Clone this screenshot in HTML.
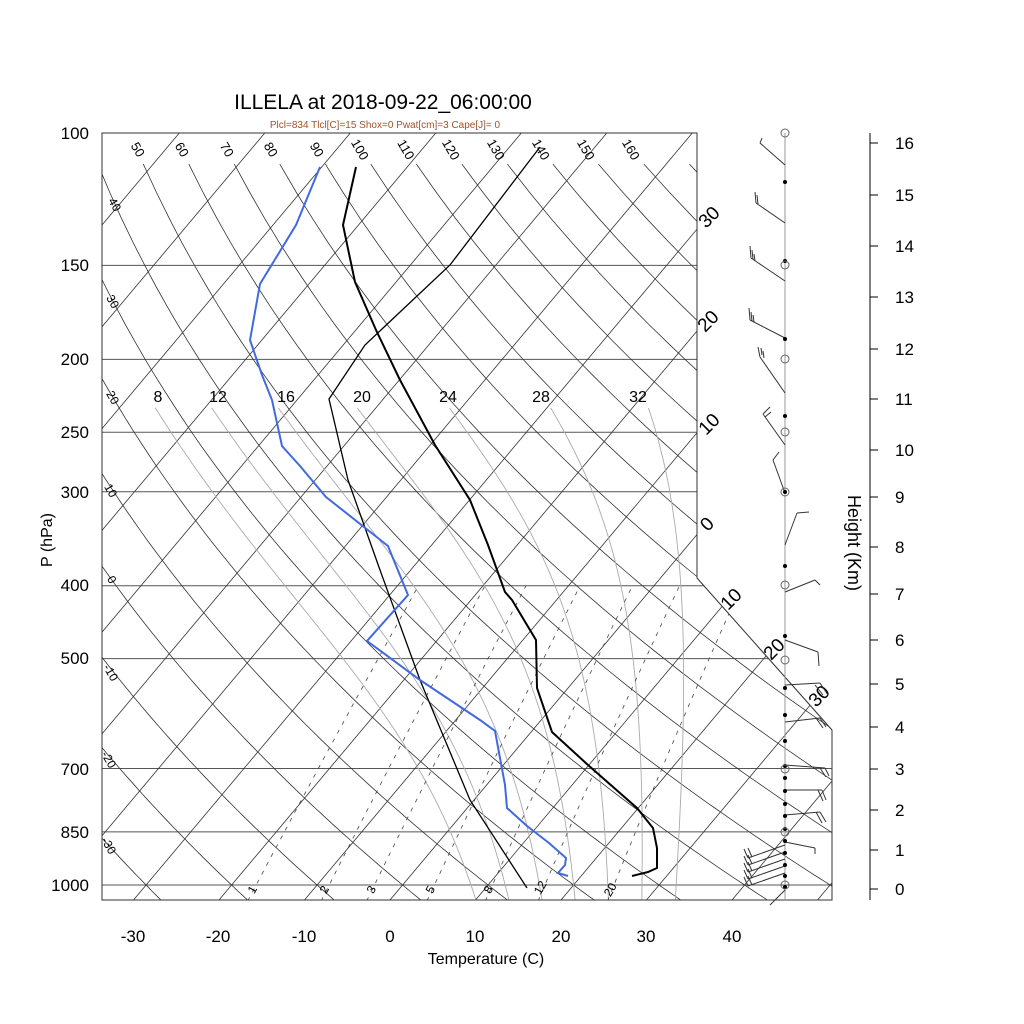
<!DOCTYPE html>
<html><head><meta charset="utf-8"><style>
body{margin:0;background:#fff}
svg{display:block;font-family:"Liberation Sans",sans-serif}
</style></head><body>
<svg id="s" width="1024" height="1024" viewBox="0 0 1024 1024" xmlns="http://www.w3.org/2000/svg">
<defs><clipPath id="c"><polygon points="102,133 697,133 697,578 832,730 832,900 102,900"/></clipPath></defs>
<rect width="1024" height="1024" fill="#fff"/>
<g id="grid" clip-path="url(#c)"></g>
<polygon points="102,133 697,133 697,578 832,730 832,900 102,900" fill="none" stroke="#333" stroke-width="1"/>
<text x="383" y="109" font-size="21" text-anchor="middle">ILLELA at 2018-09-22_06:00:00</text>
<text x="385" y="128" font-size="10" text-anchor="middle" fill="#a0522d">Plcl=834 Tlcl[C]=15 Shox=0 Pwat[cm]=3 Cape[J]= 0</text>
<g font-size="17" text-anchor="end">
<text x="89" y="139">100</text><text x="89" y="271">150</text><text x="89" y="365">200</text><text x="89" y="438">250</text><text x="89" y="498">300</text><text x="89" y="591">400</text><text x="89" y="664">500</text><text x="89" y="775">700</text><text x="89" y="838">850</text><text x="89" y="891">1000</text>
</g>
<text transform="translate(52,540) rotate(-90)" font-size="16" text-anchor="middle">P (hPa)</text>
<g font-size="17" text-anchor="middle">
<text x="133" y="942">-30</text><text x="218" y="942">-20</text><text x="304" y="942">-10</text><text x="390" y="942">0</text><text x="475" y="942">10</text><text x="561" y="942">20</text><text x="646" y="942">30</text><text x="732" y="942">40</text>
</g>
<text x="486" y="964" font-size="16" text-anchor="middle">Temperature (C)</text>
<line x1="870" y1="133" x2="870" y2="900" stroke="#000"/>
<g id="hax" font-size="17"></g>
<text transform="translate(848,543) rotate(90)" font-size="18" text-anchor="middle">Height (Km)</text>
<g id="lab"></g>
<polyline fill="none" stroke="#000" stroke-width="1.3" points="527,888 470,800 420,680 380,570 348,480 329,399 365,345 450,265 540,147"/>
<polyline fill="none" stroke="#000" stroke-width="2" points="356,167 343,225 355,282 376,330 400,380 435,445 470,500 488,545 505,592 512,600 536,640 537,688 552,732 588,765 637,808 653,828 657,848 657,868 648,872 632,876"/>
<polyline fill="none" stroke="#4169e1" stroke-width="2" points="320,167 296,225 260,284 250,340 262,375 272,400 282,446 300,466 326,497 388,546 408,595 367,641 420,680 480,720 495,731 505,785 507,808 527,826 549,843 566,858 565,865 558,873 568,876"/>
<line x1="785" y1="133" x2="785" y2="900" stroke="#999"/>
<g id="wind" stroke="#333" fill="none" stroke-width="1"></g>
<script>
var S=document.getElementById('s'),NS='http://www.w3.org/2000/svg';
function el(par,tag,at,txt){var e=document.createElementNS(NS,tag);for(var k in at)e.setAttribute(k,at[k]);if(txt!==undefined)e.textContent=txt;document.getElementById(par).appendChild(e);return e;}
function Y(p){return 133+326.6*Math.log(p/100);}
function X(T,y){return 390+8.55*T+(900-y)*0.84;}
function line(pts,st,w,da){el('grid','polyline',{points:pts.map(function(a){return a[0].toFixed(1)+','+a[1].toFixed(1)}).join(' '),fill:'none',stroke:st,'stroke-width':w,'stroke-dasharray':da||'none'});}
[100,150,200,250,300,400,500,700,850,1000].forEach(function(p){var y=Y(p);line([[102,y],[840,y]],'#555',1);});
for(var T=-160;T<=60;T+=10){line([[X(T,900),900],[X(T,133),133]],'#333',0.8);}
for(var th=-30;th<=170;th+=10){var pts=[];for(var p=1050;p>=110;p-=10){var t=(th+273.15)*Math.pow(p/1000,0.2857)-273.15;var y=Y(p);pts.push([X(t,y),y]);}line(pts,'#333',0.8);}
function es(t){return 6.112*Math.exp(17.67*t/(t+243.5));}
function dTdp(t,p){var Tk=t+273.15,r=0.622*es(t)/(p-es(t));return (287*Tk+2.5e6*r)/(p*(1004+2.5e6*2.5e6*r*0.622/(287*Tk*Tk)));}
[8,12,16,20,24,28,32].forEach(function(tw){var pts=[],t=tw,p=1000;var dn=[];var tt=tw;for(var pp=1000;pp<=1050;pp+=2){dn.push([pp,tt]);tt+=dTdp(tt,pp)*2;}
 for(var i=dn.length-1;i>=0;i--){var y=Y(dn[i][0]);pts.push([X(dn[i][1],y),y]);}
 while(p>232){t-=dTdp(t,p)*2;p-=2;var y=Y(p);pts.push([X(t,y),y]);}
 line(pts,'#aaa',0.9);});
[1,2,3,5,8,12,20].forEach(function(w){var pts=[];for(var p=1050;p>=400;p-=10){var e=w/1000*p/(0.622+w/1000);var l=Math.log(e/6.112);var td=243.5*l/(17.67-l);var y=Y(p);pts.push([X(td,y),y]);}line(pts,'#444',0.8,'4,6');});
function L(x,y,t,r,fs,col){el('lab','text',{x:x,y:y,'font-size':fs,'text-anchor':'middle','dominant-baseline':'middle',fill:col||'#000',transform:'rotate('+r+' '+x+' '+y+')'},t);}
[[137,150,50],[181,150,60],[226,150,70],[270,150,80],[316,150,90],[359,150,100],[405,150,110],[450,150,120],[495,150,130],[540,150,140],[585,150,150],[630,150,160]].forEach(function(a){L(a[0],a[1],a[2],60,13);});
[[114,205,40],[112,302,30],[112,398,20],[110,491,10],[111,580,0],[110,673,-10],[108,760,-20],[108,846,-30]].forEach(function(a){L(a[0],a[1],a[2],60,12);});
[[158,398,8],[218,398,12],[286,398,16],[362,398,20],[448,398,24],[541,398,28],[638,398,32]].forEach(function(a){L(a[0],a[1],a[2],0,16);});
[[710,218,30],[709,322,20],[710,425,10],[708,525,0],[732,600,10],[775,650,20],[820,697,30]].forEach(function(a){L(a[0],a[1],a[2],-45,19);});
[[253,890,1],[325,890,2],[372,890,3],[431,890,5],[489,890,8],[541,888,12],[611,890,20]].forEach(function(a){L(a[0],a[1],a[2],-60,12);});
[[16,143],[15,195],[14,246],[13,297],[12,349],[11,399],[10,450],[9,497],[8,547],[7,594],[6,640],[5,684],[4,727],[3,769],[2,810],[1,850],[0,889]].forEach(function(a){el('hax','line',{x1:870,y1:a[1],x2:878,y2:a[1],stroke:'#000'});el('hax','text',{x:895,y:a[1]+6},a[0]);});
function W(a,b,c,d,feat){el('wind','line',{x1:a,y1:b,x2:c,y2:d});(feat||[]).forEach(function(f){el('wind','line',{x1:f[0],y1:f[1],x2:f[2],y2:f[3]});});}
W(785,165,760,143,[[760,143,762,138]]);
W(785,223,756,203,[[756,203,755,192],[758,204,757,195]]);
W(785,281,751,258,[[751,258,750,246],[753,259,752,250],[755,261,754,254]]);
W(785,338,750,320,[[750,320,749,308],[752,321,751,312],[754,322,753,315]]);
W(785,393,760,357,[[760,357,758,347],[762,355,761,348],[764,358,763,351]]);
W(785,445,763,414,[[763,414,770,407],[765,417,771,412]]);
W(785,493,773,460,[[773,460,779,452]]);
W(785,545,797,513,[[797,513,809,512]]);
W(785,592,815,580,[[815,580,820,585]]);
W(785,640,818,652,[[818,652,819,666]]);
W(785,685,820,683,[[820,683,828,695],[815,685,823,695]]);
W(785,722,820,718,[[820,718,826,727],[816,718,823,728]]);
W(785,765,825,768,[[825,768,829,776],[820,768,826,777]]);
W(785,790,822,790,[[822,790,826,800],[818,790,823,801]]);
W(785,815,820,812,[[820,812,826,822],[816,812,822,823]]);
W(785,842,815,848,[[815,848,815,854]]);
[855,862,869,876,883].forEach(function(y,i){W(785,y-10,748,y+3,[[748,y+3,744,y-6],[752,y+2,748,y-7]]);});
W(785,890,770,905);
[182,261,339,416,492,566,636,688,715,741,766,778,791,804,816,829,841,853,865,876,887].forEach(function(y){el('wind','circle',{cx:785,cy:y,r:2,fill:'#000',stroke:'none'});});
[133,265,359,432,492,585,660,769,832,885].forEach(function(y){el('wind','circle',{cx:785,cy:y,r:4,stroke:'#666'});});
</script>
</svg>
</body></html>
